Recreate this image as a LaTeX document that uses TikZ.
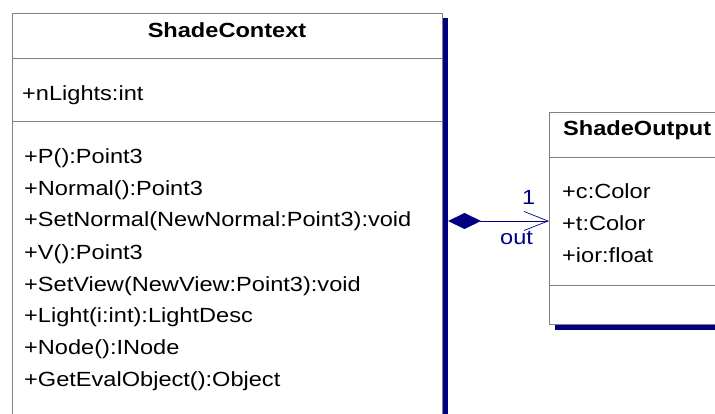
\documentclass[tikz,border=0pt]{standalone}
\usepackage{fontspec}
\setmainfont{Liberation Sans}[FakeStretch=1.15]
\usetikzlibrary{arrows.meta}
\definecolor{navy}{RGB}{0,0,128}
\definecolor{boxgray}{RGB}{128,128,128}
\begin{document}
\begin{tikzpicture}[x=1pt,y=-1pt,
  txt/.style={anchor=base west,inner sep=0pt,font=\fontsize{20.5}{24}\selectfont},
  ttl/.style={anchor=base,inner sep=0pt,font=\fontsize{20.5}{24}\selectfont\bfseries},
  lbl/.style={anchor=base west,inner sep=0pt,text=navy,font=\fontsize{20.5}{24}\selectfont},
  umlbox/.style={draw=boxgray,line width=0.8pt,fill=white,anchor=north west,inner sep=0pt},
  divider/.style={draw=boxgray,line width=0.8pt}]
\useasboundingbox (0,0) rectangle (715,414);
\clip (0,0) rectangle (715,414);
% shadows
\fill[navy] (443,18) rectangle (448,420);
\fill[navy] (555,325) rectangle (720,330);
% ShadeContext
\node[umlbox,minimum width=430pt,minimum height=420pt] (sc) at (12,13) {};
\draw[divider] (12,58) -- (442,58);
\draw[divider] (12,121) -- (442,121);
\node[ttl] (sct) at (227,38) {ShadeContext};
\node[txt] (a1) at (22,101) {+nLights:int};
\node[txt] (m1) at (24,164) {+P():Point3};
\node[txt] (m2) at (24,196) {+Normal():Point3};
\node[txt] (m3) at (24,227) {+SetNormal(NewNormal:Point3):void};
\node[txt] (m4) at (24,259) {+V():Point3};
\node[txt] (m5) at (24,291) {+SetView(NewView:Point3):void};
\node[txt] (m6) at (24,322) {+Light(i:int):LightDesc};
\node[txt] (m7) at (24,354) {+Node():INode};
\node[txt] (m8) at (24,386) {+GetEvalObject():Object};
% ShadeOutput
\node[umlbox,minimum width=200pt,minimum height=212pt] (so) at (549,112) {};
\draw[divider] (549,157) -- (720,157);
\draw[divider] (549,285) -- (720,285);
\node[txt,font=\fontsize{20.5}{24}\selectfont\bfseries] (sot) at (563,136) {ShadeOutput};
\node[txt] (b1) at (562,199) {+c:Color};
\node[txt] (b2) at (562,231) {+t:Color};
\node[txt] (b3) at (562,262) {+ior:float};
% association
\coordinate (src) at (448,221);
\coordinate (dst) at (549,221);
\draw[navy,line width=0.7pt,
  {Diamond[length=33pt,width=16pt,fill=navy,line width=0pt]}-{Straight Barb[length=24pt,width=19pt,line width=0.7pt]}]
  (src) -- (dst);
\node[lbl] (mult) at (522,205) {1};
\node[lbl] (role) at (500,245) {out};
\end{tikzpicture}
\end{document}
